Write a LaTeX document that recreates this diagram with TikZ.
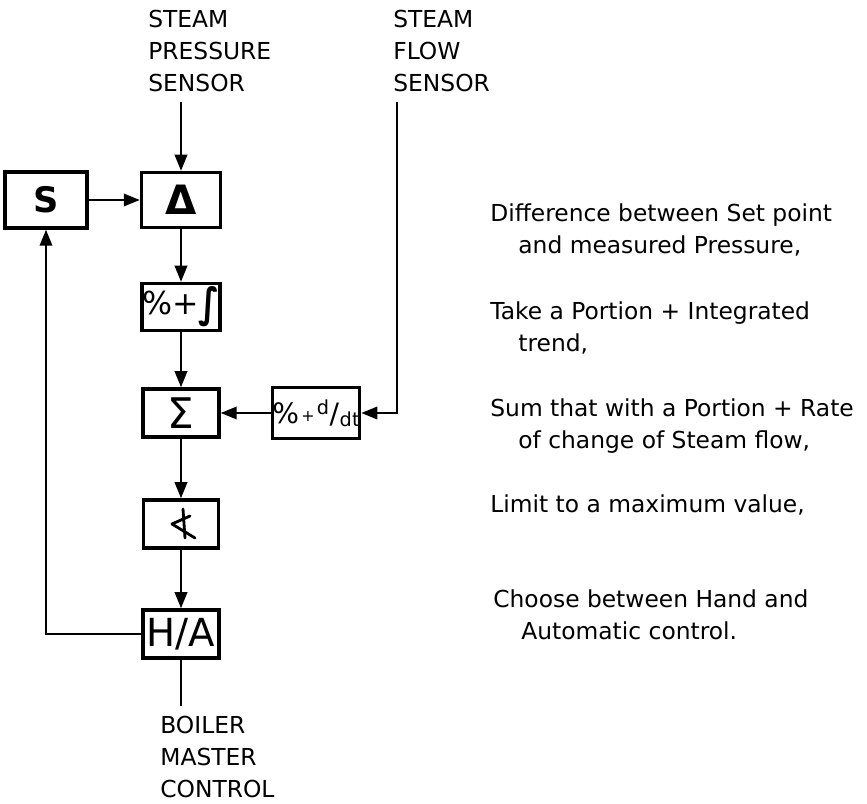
\documentclass[tikz,border=0pt]{standalone}
\usepackage{fontspec}
\usepackage{graphicx}
\setmainfont{DejaVu Sans}
\usetikzlibrary{positioning,arrows.meta,calc}

\begin{document}
\begin{tikzpicture}[x=.02cm,y=-.02cm,
  blk/.style={draw,line width=2pt,minimum width=1.52cm,minimum height=.96cm,inner sep=0pt,font=\fontsize{20}{22}\selectfont},
  lbl/.style={anchor=north west,inner sep=0pt,align=left,font=\fontsize{13.3}{18.2}\selectfont},
  arr/.style={-{Triangle[length=3.2mm,width=2.5mm]},line width=1.1pt},
  wire/.style={line width=1.1pt}]
\useasboundingbox (0,0) rectangle (867,804);
% control blocks
\node[blk,minimum width=1.64cm,minimum height=1.12cm] (s) at (46,200){\bfseries S};
\node[blk,minimum width=1.58cm,minimum height=1.1cm] (delta) at (181,200){\fontsize{23}{24}\selectfont\bfseries Δ};
\node[blk,minimum width=1.44cm,minimum height=.94cm] (pi) at (181,307){\fontsize{18}{20}\selectfont\raisebox{-.3ex}{\%+}\raisebox{-.5ex}{\scalebox{1.1}[1.3]{\bfseries ∫}}};
\node[blk] (sum) at (181,413){\fontsize{24}{24}\selectfont Σ};
\node[blk,minimum width=1.6cm,minimum height=1.02cm] (pd) at (316,413){\fontsize{16}{18}\selectfont\%\kern.08em\raisebox{.1ex}{\fontsize{9}{9}\selectfont+}\kern.08em\raisebox{.6ex}{\fontsize{11}{11}\selectfont d}\kern.02em/\kern.02em\raisebox{-.2ex}{\fontsize{11}{11}\selectfont dt}};
\node[blk,minimum width=1.5cm] (lim) at (181,524){};
\draw[line width=1.6pt,line cap=round,line join=round] ($(lim)+(9,-8)$) -- ($(lim)+(-9,0)$) -- ($(lim)+(14,14)$);
\draw[line width=1.6pt,line cap=round] ($(lim)+(2,-15)$) -- ($(lim)+(4,14)$);
\node[blk] (ha) at (181,634){\fontsize{22}{22}\selectfont H/A};
% signal names
\node[lbl] (press) at (148,10){STEAM\\PRESSURE\\SENSOR};
\node[lbl] (flow) at (393,10){STEAM\\FLOW\\SENSOR};
\node[lbl] (boiler) at (160,716){BOILER\\MASTER\\CONTROL};
\coordinate (fl) at ($(flow.south west)+(4,10)$);
% signal flow
\draw[arr] ($(delta |- press.south)+(0,10)$) -- (delta);
\draw[arr] (s) -- (delta);
\draw[arr] (delta) -- (pi);
\draw[arr] (pi) -- (sum);
\draw[arr] (fl) |- (pd.east);
\draw[arr] (pd) -- (sum);
\draw[arr] (sum) -- (lim);
\draw[arr] (lim) -- (ha);
\draw[arr] (ha.west) -| (s.south);
\draw[wire] (ha.south) -- ($(boiler.north -| ha)+(0,-10)$);
% notes
\node[lbl] (n1) at (490,203){Difference between Set point\\\hspace*{1.2em}and measured Pressure,};
\node[lbl] (n2) at (490,301){Take a Portion + Integrated\\\hspace*{1.2em}trend,};
\node[lbl] (n3) at (490,398){Sum that with a Portion + Rate\\\hspace*{1.2em}of change of Steam flow,};
\node[lbl] (n4) at (490,494){Limit to a maximum value,};
\node[lbl] (n5) at (493,589){Choose between Hand and\\\hspace*{1.2em}Automatic control.};
\end{tikzpicture}
\end{document}
